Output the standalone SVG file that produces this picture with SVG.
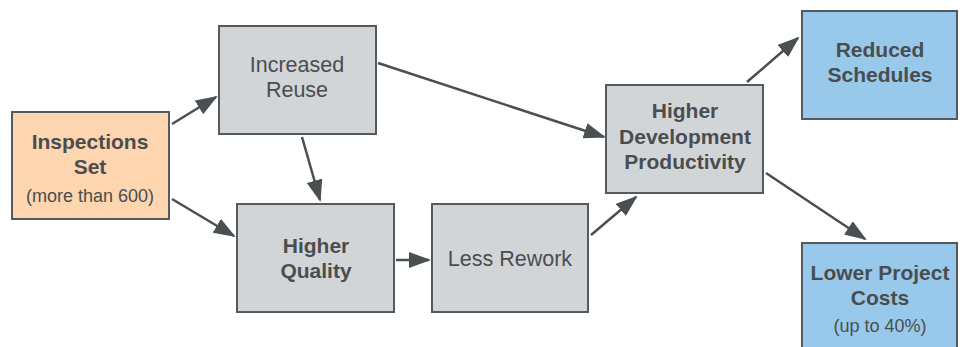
<svg xmlns="http://www.w3.org/2000/svg" width="960" height="347" viewBox="0 0 960 347">
  <style>
    .box { stroke: #555a5e; stroke-width: 2; }
    .gray { fill: #d2d5d8; }
    .orange { fill: #fdd5ae; }
    .blue { fill: #99c9ea; }
    text { font-family: "Liberation Sans", Arial, sans-serif; fill: #4a4d50; text-anchor: middle; }
    .b { font-weight: bold; font-size: 21px; }
    .r { font-size: 21.5px; }
    .s { font-size: 18px; }
    .edge { stroke: #4a4f52; stroke-width: 2.5; fill: none; marker-end: url(#arrow); }
  </style>
  <defs>
    <marker id="arrow" markerUnits="userSpaceOnUse" markerWidth="22" markerHeight="16" viewBox="0 0 22 16" refX="20" refY="8" orient="auto">
      <path d="M0,0 L22,8 L0,16 Z" fill="#4a4f52"/>
    </marker>
  </defs>
  <rect width="960" height="347" fill="#ffffff"/>

  <g id="connectors">
    <line class="edge" x1="172" y1="124" x2="216" y2="97"/>
    <line class="edge" x1="172" y1="199" x2="234" y2="236"/>
    <line class="edge" x1="302" y1="137" x2="320" y2="200"/>
    <line class="edge" x1="378" y1="63" x2="604" y2="137"/>
    <line class="edge" x1="396" y1="260" x2="429" y2="260"/>
    <line class="edge" x1="591" y1="235" x2="636" y2="197"/>
    <line class="edge" x1="747" y1="82" x2="798" y2="38"/>
    <line class="edge" x1="766" y1="173" x2="865" y2="239"/>
  </g>

  <g id="inspections-set">
    <rect class="box orange" x="12" y="112" width="157" height="107"/>
    <text class="b" x="90" y="149">Inspections</text>
    <text class="b" x="90" y="174">Set</text>
    <text class="s" x="90" y="202">(more than 600)</text>
  </g>

  <g id="increased-reuse">
    <rect class="box gray" x="219" y="26" width="157" height="108"/>
    <text class="r" x="297" y="72">Increased</text>
    <text class="r" x="297" y="97">Reuse</text>
  </g>

  <g id="higher-quality">
    <rect class="box gray" x="237" y="204" width="157" height="108"/>
    <text class="b" x="316" y="253">Higher</text>
    <text class="b" x="316" y="278">Quality</text>
  </g>

  <g id="less-rework">
    <rect class="box gray" x="432" y="204" width="156" height="108"/>
    <text class="r" x="510" y="266">Less Rework</text>
  </g>

  <g id="higher-development-productivity">
    <rect class="box gray" x="606" y="85" width="157" height="108"/>
    <text class="b" x="685" y="118">Higher</text>
    <text class="b" x="685" y="144">Development</text>
    <text class="b" x="685" y="169">Productivity</text>
  </g>

  <g id="reduced-schedules">
    <rect class="box blue" x="802" y="11" width="155" height="108"/>
    <text class="b" x="880" y="57">Reduced</text>
    <text class="b" x="880" y="82">Schedules</text>
  </g>

  <g id="lower-project-costs">
    <rect class="box blue" x="802" y="243" width="155" height="110"/>
    <text class="b" x="880" y="280">Lower Project</text>
    <text class="b" x="880" y="305">Costs</text>
    <text class="s" x="880" y="332">(up to 40%)</text>
  </g>
</svg>
